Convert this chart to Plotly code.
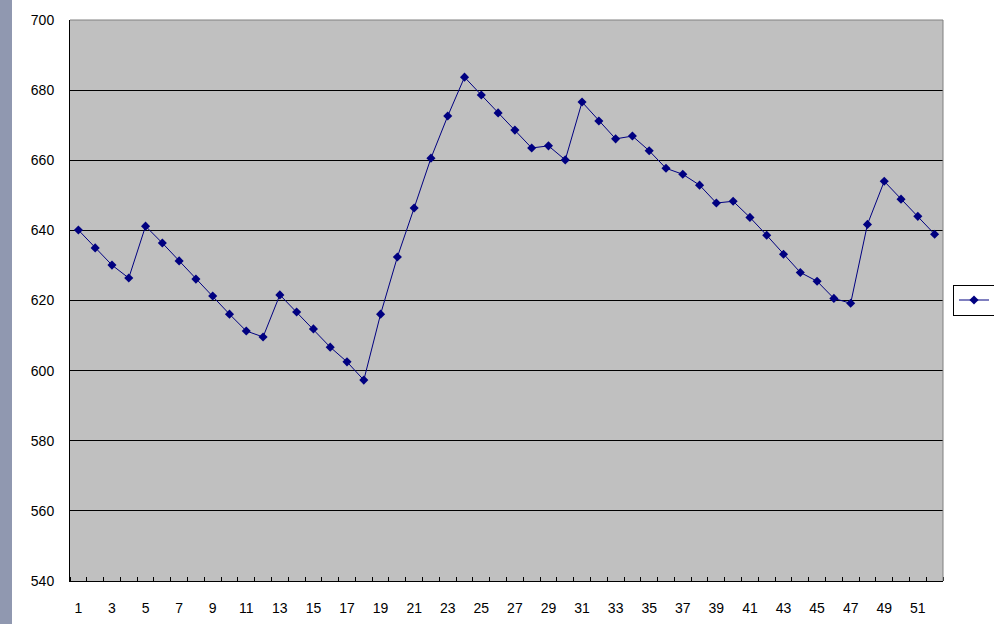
import plotly.graph_objects as go

categories = list(range(1, 53))
values = [640.1, 635.0, 630.1, 626.4, 641.2, 636.4, 631.3, 626.1, 621.3, 616.1,
          611.3, 609.6, 621.6, 616.7, 611.9, 606.7, 602.5, 597.3, 616.1, 632.4,
          646.4, 660.6, 672.6, 683.7, 678.6, 673.5, 668.6, 663.5, 664.1, 660.1,
          676.6, 671.2, 666.1, 666.9, 662.7, 657.7, 656.0, 652.9, 647.8, 648.3,
          643.7, 638.6, 633.2, 628.0, 625.5, 620.6, 619.2, 641.7, 654.0, 648.9,
          644.0, 638.9]
x_tick_labels = [str(v) for v in range(1, 53, 2)]
y_ticks = [540, 560, 580, 600, 620, 640, 660, 680, 700]
series_name = "系列1"

fig = go.Figure()
fig.add_trace(go.Scatter(
    x=categories, y=values, mode="lines+markers", name=series_name,
    line=dict(color="#000080", width=1),
    marker=dict(symbol="diamond", size=7, color="#000080"),
))

L, R, T, B = 70, 51, 20, 43
W, H = 994, 624
pw = W - L - R
ph = H - T - B

fig.update_layout(
    width=W, height=H,
    margin=dict(l=L, r=R, t=T, b=B, autoexpand=False),
    paper_bgcolor="white", plot_bgcolor="#C0C0C0",
    font=dict(family="Liberation Sans, Arial, sans-serif", size=14, color="black"),
    showlegend=True,
    legend=dict(
        x=(953 - L) / pw, xanchor="left", y=(H - B - 300) / ph, yanchor="middle",
        bgcolor="white", bordercolor="black", borderwidth=1,
        font=dict(size=10),
    ),
    xaxis=dict(
        range=[0.5, 52.5], tickmode="array",
        tickvals=list(range(1, 53, 2)), ticktext=x_tick_labels,
        ticks="", showgrid=False, zeroline=False,
        showline=True, linecolor="black", linewidth=1,
        ticklabelstandoff=14,
        minor=dict(tick0=0.5, dtick=1, ticks="inside", ticklen=4,
                   tickcolor="black", showgrid=False),
    ),
    yaxis=dict(
        range=[540, 700], tickmode="array", tickvals=y_ticks,
        ticks="", showgrid=True, gridcolor="black", gridwidth=1,
        zeroline=False, showline=True, linecolor="black", linewidth=1,
        ticklabelstandoff=12,
    ),
    shapes=[
        dict(type="rect", xref="paper", yref="paper",
             x0=-L / pw, x1=(12 - L) / pw, y0=-B / ph, y1=1 + T / ph,
             fillcolor="#9098B0", line=dict(width=0), layer="below"),
        dict(type="line", xref="paper", yref="paper", x0=0, x1=1, y0=1, y1=1,
             line=dict(color="#808080", width=1)),
        dict(type="line", xref="paper", yref="paper", x0=1, x1=1, y0=0, y1=1,
             line=dict(color="#808080", width=1)),
    ],
)

fig.write_html(
    "out.html",
    config={"displayModeBar": False},
    post_script="document.body.style.margin='0';document.body.style.overflow='hidden';",
)
